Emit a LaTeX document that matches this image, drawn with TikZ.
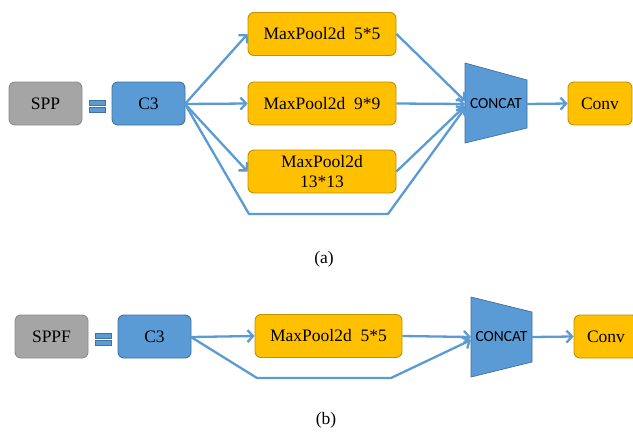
\documentclass[tikz,border=0pt]{standalone}
\usepackage{fontspec}
\setmainfont{Liberation Serif}
\newfontfamily\concatfont{Carlito}
\usetikzlibrary{arrows.meta}
\definecolor{boxgray}{HTML}{A5A5A5}
\definecolor{graybd}{HTML}{8C8C8C}
\definecolor{boxblue}{HTML}{5B9BD5}
\definecolor{bluebd}{HTML}{41719C}
\definecolor{boxgold}{HTML}{FFC000}
\definecolor{goldbd}{HTML}{BF9000}
\definecolor{linkblue}{HTML}{5B9BD5}
\begin{document}
\begin{tikzpicture}[x=1pt,y=-1pt,
  blk/.style={rounded corners=6pt, line width=0.9pt, minimum height=43pt,
    inner sep=0pt, align=center, font=\fontsize{17.5}{20}\selectfont},
  graybox/.style={blk, fill=boxgray, draw=graybd, minimum width=73pt},
  bluebox/.style={blk, fill=boxblue, draw=bluebd, minimum width=73pt},
  poolbox/.style={blk, fill=boxgold, draw=goldbd, minimum width=148pt},
  convbox/.style={blk, fill=boxgold, draw=goldbd, minimum width=64pt},
  eqbar/.style={fill=boxblue, draw=bluebd, line width=0.7pt, minimum width=16pt,
    minimum height=5pt, inner sep=0pt},
  concatshape/.style={fill=boxblue, draw=bluebd, line width=0.7pt},
  concattext/.style={font=\concatfont\fontsize{15.5}{17}\selectfont, inner sep=0pt},
  link/.style={draw=linkblue, line width=2.3pt, line join=round,
    -{Straight Barb[length=5.5pt,width=12pt]}},
  caption/.style={font=\fontsize{17.5}{20}\selectfont, inner sep=0pt}]
\clip (0,0) rectangle (633,432);
\fill[white] (0,0) rectangle (633,432);

% ---------- (a) SPP ----------
\node[graybox] (spp) at (45.5,103.5) {SPP};
\node[eqbar] (eqa1) at (97,102.5) {};
\node[eqbar] (eqa2) at (97,109.5) {};
\node[bluebox] (c3a) at (148.5,103.5) {C3};
\node[poolbox] (mp5) at (322,34) {MaxPool2d~~5*5};
\node[poolbox] (mp9) at (322,103.5) {MaxPool2d~~9*9};
\node[poolbox] (mp13) at (322,171.5) {MaxPool2d\\13*13};
\draw[concatshape] (465,63) -- (527,80) -- (527,128) -- (465,143) -- cycle;
\node[concattext] (cca) at (496,104) {CONCAT};
\coordinate (ccaout) at (527,104);
\coordinate (ccain1) at (465,101);
\coordinate (ccain2) at (465,104);
\coordinate (ccain3) at (465,106);
\coordinate (ccain4) at (465,108);
\node[convbox] (conva) at (600,103.5) {Conv};
\coordinate (c3aout) at (185,104);
\coordinate (bya) at (249,214);
\coordinate (byb) at (388,214);

\draw[link] (c3aout) -- (mp5.west);
\draw[link] (c3aout) -- (mp9.west);
\draw[link] (c3aout) -- (mp13.west);
\draw[link] (c3aout) -- (bya) -- (byb) -- (ccain4);
\draw[link] (mp5.east) -- (ccain1);
\draw[link] (mp9.east) -- (ccain2);
\draw[link] (mp13.east) -- (ccain3);
\draw[link] (ccaout) -- (conva.west);
\node[caption] (capa) at (324,259) {(a)};

% ---------- (b) SPPF ----------
\node[graybox] (sppf) at (51.5,336.5) {SPPF};
\node[eqbar] (eqb1) at (103,336) {};
\node[eqbar] (eqb2) at (103,343) {};
\node[bluebox] (c3b) at (154.5,336.5) {C3};
\node[poolbox, minimum width=147pt] (mpb) at (328.5,336) {MaxPool2d~~5*5};
\draw[concatshape] (471,297) -- (532,312) -- (532,362) -- (471,377) -- cycle;
\node[concattext] (ccb) at (501.5,337) {CONCAT};
\coordinate (ccbout) at (532,337);
\coordinate (ccbin1) at (471,337);
\coordinate (ccbin2) at (471,340);
\node[convbox] (convb) at (606,336.5) {Conv};
\coordinate (c3bout) at (191,337);
\coordinate (byc) at (257,378);
\coordinate (byd) at (391,378);

\draw[link] (c3bout) -- (mpb.west);
\draw[link] (c3bout) -- (byc) -- (byd) -- (ccbin2);
\draw[link] (mpb.east) -- (ccbin1);
\draw[link] (ccbout) -- (convb.west);
\node[caption] (capb) at (326,420) {(b)};
\end{tikzpicture}
\end{document}
